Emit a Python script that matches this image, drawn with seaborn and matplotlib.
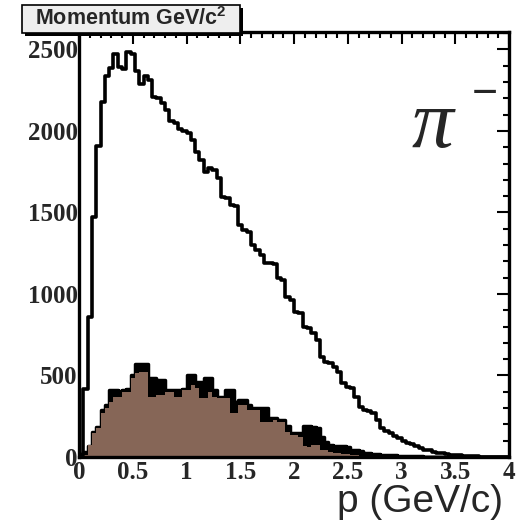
import numpy as np
import pandas as pd
import matplotlib
matplotlib.use("Agg")
import matplotlib.pyplot as plt
import matplotlib.patches as mpatches
import matplotlib.patheffects as pe
from matplotlib.ticker import MultipleLocator
import seaborn as sns

# momentum binning (GeV/c): 100 bins from 0 to 4
p_lo, p_hi, n_bins = 0.0, 4.0, 100

# all pi- tracks (open black histogram)
counts_all = [
    15, 420, 860, 1475, 1905, 2180, 2335, 2385, 2475, 2390,
    2380, 2487, 2470, 2365, 2290, 2335, 2310, 2210, 2200, 2170,
    2130, 2060, 2050, 2015, 2000, 1986, 1945, 1873, 1822, 1750,
    1773, 1760, 1711, 1597, 1590, 1546, 1540, 1423, 1393, 1380,
    1300, 1270, 1240, 1190, 1190, 1185, 1098, 1086, 983, 965,
    891, 885, 800, 790, 759, 718, 615, 585, 575, 554,
    523, 452, 430, 423, 370, 309, 288, 280, 268, 227,
    178, 160, 150, 130, 115, 100, 85, 80, 65, 58,
    45, 40, 30, 26, 22, 18, 14, 12, 10, 8,
    6, 5, 4, 3, 3, 2, 2, 1, 1, 1,
]

# selected tracks (black filled histogram)
counts_sel = [
    20, 30, 65, 156, 187, 289, 320, 412, 412, 405,
    412, 415, 504, 572, 572, 570, 484, 484, 474, 474,
    412, 412, 410, 412, 415, 504, 504, 463, 463, 484,
    484, 412, 371, 371, 412, 412, 340, 350, 350, 320,
    299, 299, 299, 299, 238, 238, 228, 225, 190, 150,
    145, 145, 190, 190, 185, 180, 120, 90, 75, 70,
    68, 65, 60, 45, 42, 38, 25, 22, 20, 18,
    15, 14, 12, 10, 8, 7, 6, 5, 4, 4,
    3, 3, 2, 2, 2, 1, 1, 1, 1, 0,
    0, 0, 0, 0, 0, 0, 0, 0, 0, 0,
]

# matched tracks (brown filled histogram)
counts_match = [
    0, 10, 74, 145, 176, 268, 299, 340, 370, 370,
    401, 401, 483, 513, 524, 524, 370, 370, 380, 380,
    401, 401, 370, 370, 411, 411, 442, 421, 360, 360,
    401, 370, 360, 360, 360, 268, 268, 319, 319, 288,
    288, 288, 217, 217, 217, 227, 217, 215, 155, 135,
    135, 125, 65, 63, 75, 74, 45, 40, 30, 25,
    22, 20, 18, 12, 10, 8, 6, 5, 4, 3,
    3, 2, 2, 1, 1, 0, 0, 0, 0, 0,
    0, 0, 0, 0, 0, 0, 0, 0, 0, 0,
    0, 0, 0, 0, 0, 0, 0, 0, 0, 0,
]

xtick_vals = [0, 0.5, 1, 1.5, 2, 2.5, 3, 3.5, 4]
xtick_labels = ["0", "0.5", "1", "1.5", "2", "2.5", "3", "3.5", "4"]
ytick_vals = [0, 500, 1000, 1500, 2000, 2500]
ytick_labels = ["0", "500", "1000", "1500", "2000", "2500"]

title_text = r"Momentum GeV/c$^{\mathbf{2}}$"
xlabel_text = "p (GeV/c)"
particle_text = "\u03c0"
charge_text = "\u2212"

sns.set_style("white")
plt.rcParams["mathtext.fontset"] = "custom"
plt.rcParams["mathtext.rm"] = "Liberation Sans"
plt.rcParams["mathtext.bf"] = "Liberation Sans:bold"

edges = np.linspace(p_lo, p_hi, n_bins + 1)
df = pd.DataFrame({
    "p": 0.5 * (edges[:-1] + edges[1:]),
    "all": counts_all,
    "sel": counts_sel,
    "match": counts_match,
})

fig = plt.figure(figsize=(5.16, 5.28), dpi=100)
ax = fig.add_axes([79 / 516, 1 - 457 / 528, 430 / 516, 425 / 528])

# black filled selection, brown matched on top, then the open total
sns.histplot(data=df, x="p", weights="sel", bins=list(edges), element="step",
             fill=True, color="black", alpha=1, linewidth=2.5, ax=ax)
sns.histplot(data=df, x="p", weights="match", bins=list(edges), element="step",
             fill=True, color="#866657", alpha=1, linewidth=0, ax=ax)
sns.histplot(data=df, x="p", weights="all", bins=list(edges), element="step",
             fill=False, color="black", linewidth=2.6, ax=ax)

ax.set_xlim(p_lo, p_hi)
ax.set_ylim(0, 2607)
ax.set_xlabel("")
ax.set_ylabel("")

tick_font = dict(family="Liberation Serif", weight="bold", size=18)
ax.set_xticks(xtick_vals)
ax.set_xticklabels(xtick_labels, fontdict=tick_font)
ax.set_yticks(ytick_vals)
ax.set_yticklabels(ytick_labels, fontdict=tick_font)
ax.xaxis.set_minor_locator(MultipleLocator(0.1))
ax.yaxis.set_minor_locator(MultipleLocator(100))
ax.tick_params(which="both", direction="in", top=True, right=True,
               width=1.5, color="black")
ax.tick_params(which="major", length=8.5)
ax.tick_params(which="minor", length=4.3)
ax.tick_params(axis="y", which="major", pad=1)
ax.tick_params(axis="x", which="major", pad=3)
for sp in ax.spines.values():
    sp.set_linewidth(2.4)
    sp.set_color("black")

# x axis title, bottom right
fig.text(503 / 516, 1 - 512 / 528, xlabel_text, ha="right", va="baseline",
         family="Liberation Sans", fontsize=28)

# particle label
fig.text(412 / 516, 1 - 147 / 528, particle_text, ha="left", va="baseline",
         family="Liberation Serif", style="italic", fontsize=60)
fig.text(484.5 / 516, 1 - 106 / 528, charge_text, ha="center", va="baseline",
         family="Liberation Sans", fontsize=32)

# title box with shadow
box = mpatches.Rectangle((22 / 516, 1 - 33 / 528), 218 / 516, 28 / 528,
                         transform=fig.transFigure, facecolor="#eeeeee",
                         edgecolor="black", linewidth=1.2)
box.set_path_effects([pe.SimplePatchShadow(offset=(2.2, -2.2),
                                           shadow_rgbFace="black", alpha=1),
                      pe.Normal()])
fig.add_artist(box)
fig.text(131 / 516, 1 - 19 / 528, title_text, ha="center", va="center",
         family="Liberation Sans", fontweight="bold", fontsize=15.5)

fig.savefig("out.png", dpi=100)
